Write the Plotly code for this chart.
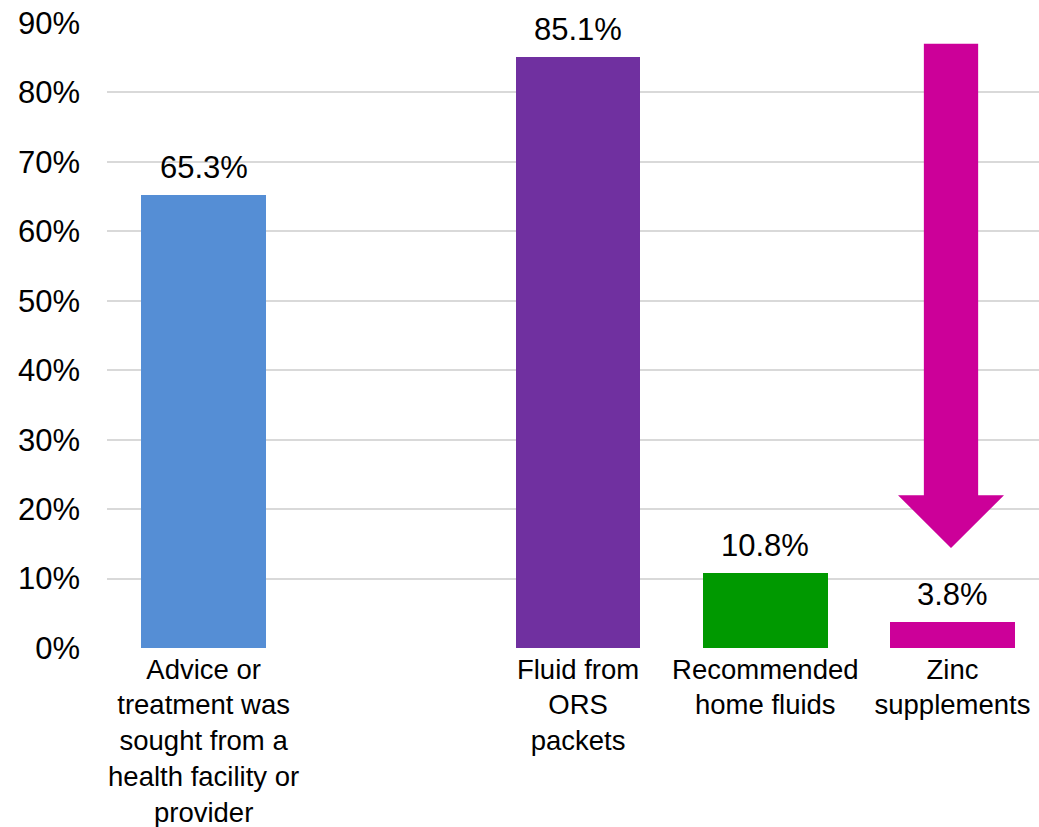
import plotly.graph_objects as go

# Care-seeking and treatment of childhood diarrhoea
categories = [
    "Advice or<br>treatment was<br>sought from a<br>health facility or<br>provider",
    " ",
    "Fluid from<br>ORS<br>packets",
    "Recommended<br>home fluids",
    "Zinc<br>supplements",
]
values = [65.3, None, 85.1, 10.8, 3.8]
bar_colors = ["#558ED5", "#FFFFFF", "#7030A0", "#009900", "#CC0099"]
y_ticks = [0, 10, 20, 30, 40, 50, 60, 70, 80, 90]
y_tick_labels = [f"{v}%" for v in y_ticks]

FONT = "Liberation Sans, Arial, sans-serif"
ARROW_COLOR = "#CC0099"

fig = go.Figure()
fig.add_trace(go.Bar(
    x=categories,
    y=values,
    marker=dict(color=bar_colors, line=dict(width=0)),
    width=0.667,
    hoverinfo="skip",
))

# value labels above each bar
for cat, val in zip(categories, values):
    if val is None:
        continue
    fig.add_annotation(
        x=cat, y=val, text=f"{val}%", showarrow=False,
        xanchor="center", yanchor="bottom", yshift=8,
        font=dict(family=FONT, size=31, color="#000000"),
    )

# downward arrow over the zinc bar
ax = 4 - 0.008       # arrow centre on the zinc slot
shaft_half = 0.145
head_half = 0.283
shaft_top = 87.0
head_base = 22.0
tip = 14.4
path = (
    f"M {ax - shaft_half} {shaft_top} L {ax + shaft_half} {shaft_top} "
    f"L {ax + shaft_half} {head_base} L {ax + head_half} {head_base} "
    f"L {ax} {tip} L {ax - head_half} {head_base} "
    f"L {ax - shaft_half} {head_base} Z"
)
fig.add_shape(type="path", path=path, xref="x", yref="y",
              fillcolor=ARROW_COLOR, line=dict(width=0), layer="above")

fig.update_layout(
    width=1039, height=827,
    margin=dict(l=107, r=0, t=23, b=179),
    paper_bgcolor="#FFFFFF", plot_bgcolor="#FFFFFF",
    showlegend=False,
    font=dict(family=FONT, size=28, color="#000000"),
    bargap=0,
)
fig.update_xaxes(
    type="category", range=[-0.516, 4.462],
    showgrid=False, zeroline=False, showline=False, ticks="",
    tickfont=dict(family=FONT, size=27.5, color="#000000"),
    ticklabelstandoff=2, automargin=False,
)
fig.update_yaxes(
    range=[0, 90], tickvals=y_ticks, ticktext=y_tick_labels,
    showgrid=True, gridcolor="#D9D9D9", gridwidth=2,
    zeroline=False, showline=False, ticks="",
    tickfont=dict(family=FONT, size=31, color="#000000"),
    ticklabelstandoff=26, automargin=False,
)

fig.write_html("out.html")
